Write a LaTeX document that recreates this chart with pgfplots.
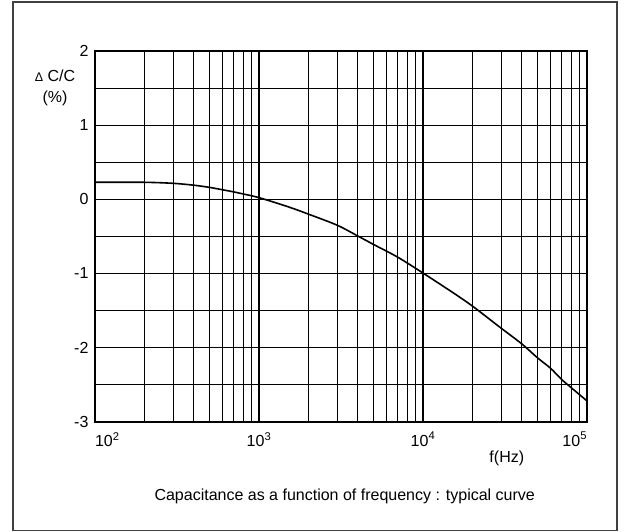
\documentclass[border=0pt]{standalone}
\usepackage{pgfplots}
\pgfplotsset{compat=1.18}
\usepackage{fontspec}
\setmainfont{Liberation Sans}
\begin{document}
\fontsize{16}{19}\selectfont
\begin{tikzpicture}[x=1pt,y=1pt]
\useasboundingbox (-95,-110.3) rectangle (530,421.7);
\draw[black!75, line width=1.2pt] (-82,-108.7) rectangle (522,419.7);
\begin{axis}[
  at={(0,0)}, anchor=south west,
  scale only axis, width=492pt, height=370.7pt,
  xmode=log, xmin=100, xmax=100000, ymin=-3, ymax=2,
  xtick={100,1000,10000,100000},
  xticklabels={\makebox[0pt][l]{10\textsuperscript{2}},10\textsuperscript{3},10\textsuperscript{4},\makebox[0pt][r]{10\textsuperscript{5}}},
  ytick={-3,-2,-1,0,1,2},
  yticklabels={-3,-2,-1,0,1,2},
  minor ytick={-2.5,-1.5,-0.5,0.5,1.5},
  grid=both,
  major grid style={black, line width=1.1pt},
  minor grid style={black, line width=1.1pt},
  major tick length=0pt, minor tick length=0pt,
  axis line style={line width=2pt},
  tick label style={font=\fontsize{16}{19}\selectfont},
  xticklabel style={yshift=-5pt},
  yticklabel style={xshift=-1pt},
  xlabel={f(Hz)},
  xlabel style={at={(axis description cs:0.837,0)}, anchor=center, yshift=-36.3pt, font=\fontsize{16}{19}\selectfont},
  ylabel={{\fontsize{12.5}{14}\selectfont Δ} C/C\\[2pt](\%)},
  ylabel style={rotate=-90, at={(axis description cs:-0.0813,0.9015)}, anchor=center, align=center, font=\fontsize{16}{19}\selectfont},
]
\addplot[black, line width=1.6pt, smooth, tension=0.5] coordinates {
(100,0.23) (200,0.229) (300,0.215) (400,0.19) (500,0.16) (600,0.128)
(700,0.1) (800,0.072) (1000,0.022) (1500,-0.1) (2000,-0.2) (3000,-0.35)
(4000,-0.495) (5000,-0.61) (7000,-0.78) (10000,-0.995) (15000,-1.25) (20000,-1.44)
(30000,-1.74) (40000,-1.95) (50000,-2.14) (60000,-2.28) (70000,-2.43) (80000,-2.54) (100000,-2.72)
};
\end{axis}
\node[font=\fontsize{16}{19}\selectfont] at (249.7,-75) {Capacitance as a function of frequency : typical curve};
\end{tikzpicture}
\end{document}
